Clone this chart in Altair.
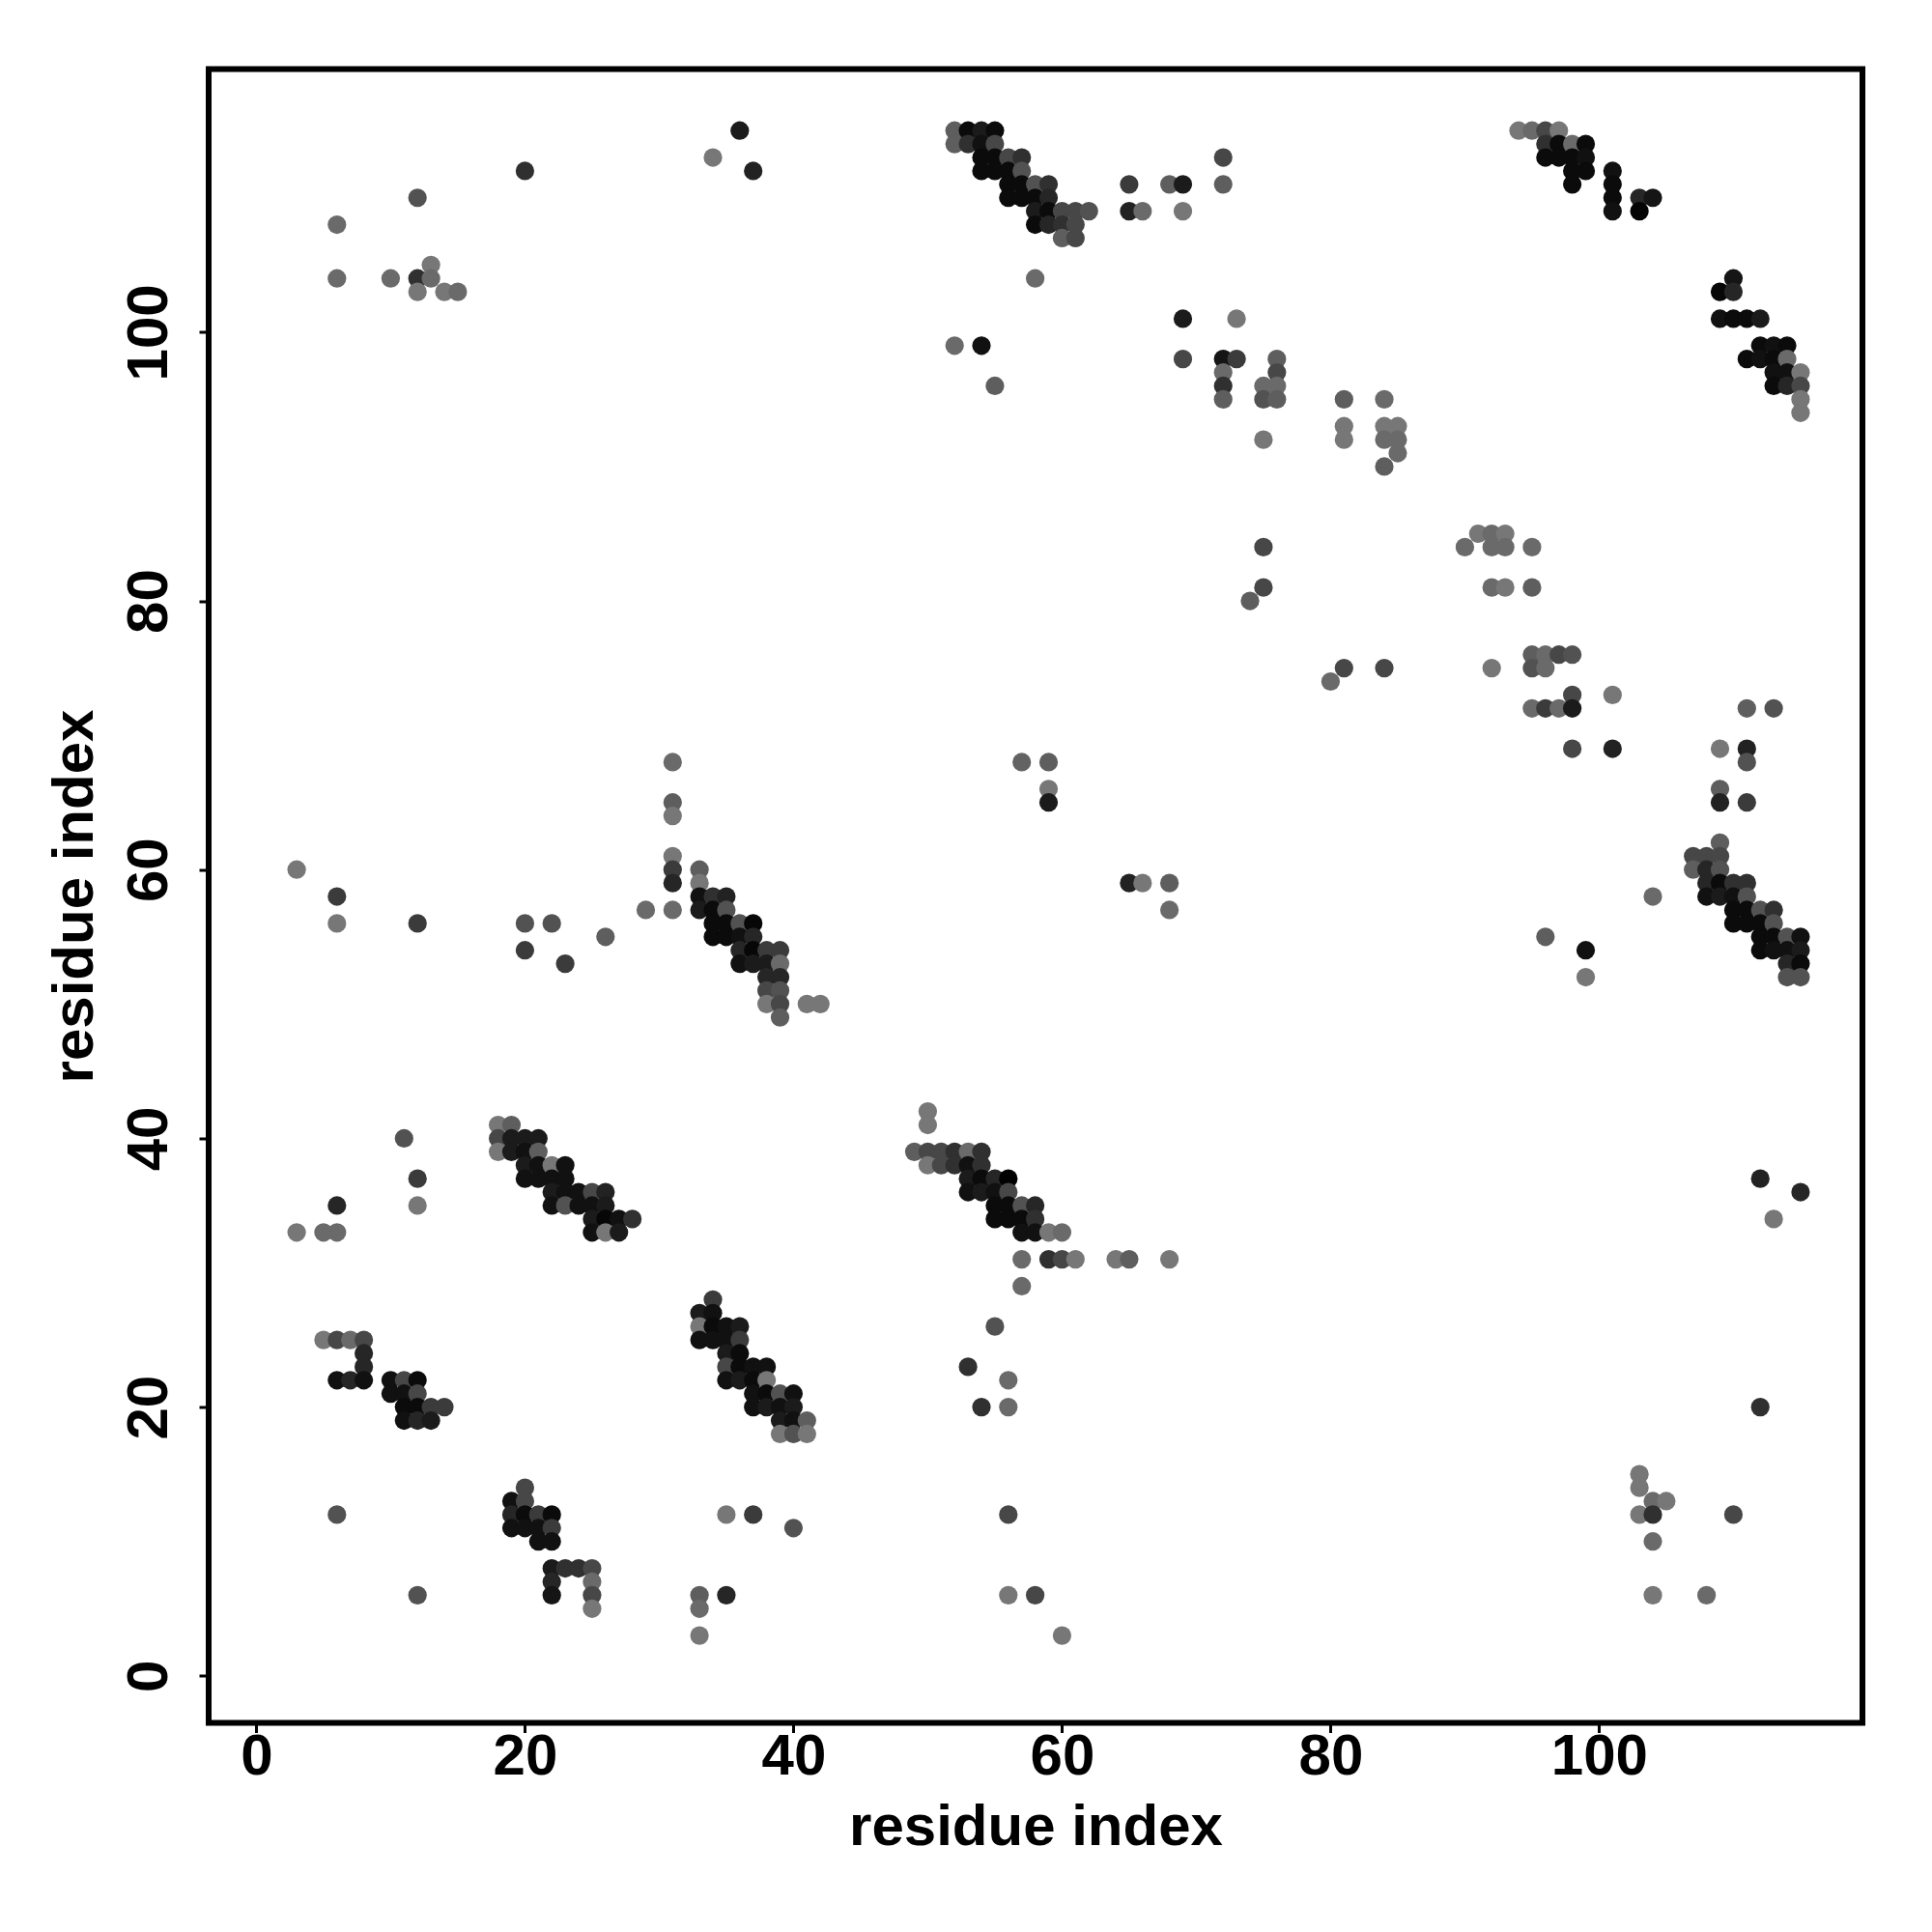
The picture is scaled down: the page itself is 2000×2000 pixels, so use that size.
import altair as alt
import pandas as pd

# (residue i, residue j, contact strength); strength 1 = black, 0 = white
upper_left = [
 (36,115,.9),(34,113,.5),(37,112,.87),(20,112,.8),(12,110,.65),(6,108,.55),(6,104,.55),(10,104,.55),
 (12,104,.8),(13,105,.5),(13,104,.55),(12,103,.5),(14,103,.5),(15,103,.55),(58,104,.55),(52,99,.55),
 (54,99,.95),(55,96,.6),(31,68,.55),(57,68,.58),(59,68,.6),(59,66,.5),(59,65,.9),(31,65,.6),(31,64,.5),
 (3,60,.5),(6,58,.75),(6,56,.5),(12,56,.75),(29,57,.55),(20,56,.65),(22,56,.65),(26,55,.6),(20,54,.75),(23,53,.75),
]
cluster_52_62 = [
 (52,115,.6),(53,115,.97),(54,115,.9),(55,115,.97),(52,114,.6),(53,114,.8),(54,114,.95),(55,114,.7),
 (54,113,.97),(55,113,.97),(56,113,.7),(57,113,.8),(54,112,.97),(55,112,.97),(56,112,.97),(57,112,.65),
 (56,111,.97),(57,111,.97),(58,111,.65),(59,111,.8),(56,110,.97),(57,110,.97),(58,110,.97),(59,110,.85),
 (58,109,.9),(59,109,.97),(60,109,.7),(61,109,.7),(62,109,.65),(58,108,.97),(59,108,.85),(60,108,.8),(61,108,.7),
 (60,107,.6),(61,107,.7),
]
cluster_31_42 = [
 (31,61,.5),(31,60,.75),(31,59,.85),(31,57,.55),(33,60,.6),(33,59,.5),(33,58,.95),(33,57,.9),
 (34,58,.8),(34,57,.97),(34,56,.97),(34,55,.97),(35,58,.87),(35,57,.65),(35,56,.97),(35,55,.97),
 (36,56,.65),(36,55,.95),(36,54,.85),(36,53,.95),(37,56,.98),(37,55,.85),(37,54,.98),(37,53,.9),
 (38,54,.75),(38,53,.9),(38,52,.85),(38,51,.7),(38,50,.5),(39,54,.75),(39,53,.55),(39,52,.85),
 (39,51,.65),(39,50,.7),(39,49,.6),(41,50,.5),(42,50,.5),
]
cluster_18_28 = [
 (18,41,.5),(18,40,.7),(18,39,.5),(19,41,.6),(19,40,.9),(19,39,.9),(20,40,.9),(20,39,.95),(20,38,.9),(20,37,.95),
 (21,40,.9),(21,39,.6),(21,38,.95),(21,37,.95),(22,38,.5),(22,37,.95),(22,36,.9),(22,35,.95),
 (23,38,.95),(23,37,.95),(23,36,.95),(23,35,.65),(24,36,.95),(24,35,.95),(25,36,.7),(25,35,.95),(25,34,.9),(25,33,.95),
 (26,36,.87),(26,35,.9),(26,34,.98),(26,33,.5),(27,34,.95),(27,33,.9),(28,34,.8),
]
cluster_49_68 = [
 (50,42,.5),(50,41,.5),(49,39,.6),(50,39,.7),(51,39,.7),(52,39,.8),(53,39,.55),(54,39,.8),
 (50,38,.5),(51,38,.7),(52,38,.8),(53,38,.95),(54,38,.8),(53,37,.9),(54,37,.97),(55,37,.85),(56,37,1),
 (53,36,.95),(54,36,.9),(55,36,.95),(56,36,.7),(55,35,.97),(56,35,.97),(57,35,.65),(58,35,.85),
 (55,34,.97),(56,34,.97),(57,34,.97),(58,34,.8),(57,33,.95),(58,33,.95),(59,33,.5),(60,33,.55),
 (57,31,.55),(59,31,.8),(60,31,.7),(61,31,.5),(64,31,.5),(65,31,.6),(68,31,.5),(57,29,.55),
]
lower_left = [
 (55,26,.65),(53,23,.8),(56,22,.55),(54,20,.8),(56,20,.55),(56,12,.7),(56,6,.5),(58,6,.7),(60,3,.5),
 (11,40,.65),(12,37,.75),(6,35,.85),(12,35,.5),(3,33,.5),(5,33,.55),(6,33,.55),
 (5,25,.5),(6,25,.7),(7,25,.55),(8,25,.7),(8,24,.85),(8,23,.85),(6,22,.95),(7,22,.85),(8,22,.95),
 (10,22,.95),(11,22,.7),(12,22,.97),(10,21,.95),(11,21,.95),(12,21,.7),(11,20,.97),(12,20,.97),(13,20,.75),(14,20,.75),
 (11,19,.95),(12,19,.85),(13,19,.9),
 (20,14,.7),(19,13,.95),(20,13,.7),(19,12,.85),(20,12,.97),(21,12,.75),(22,12,.97),
 (19,11,.95),(20,11,.95),(21,11,.95),(22,11,.75),(21,10,.95),(22,10,.95),
 (22,8,.9),(23,8,.8),(24,8,.8),(25,8,.7),(22,7,.85),(25,7,.55),(22,6,.93),(25,6,.7),(25,5,.5),
 (6,12,.65),(12,6,.65),(33,6,.6),(33,5,.55),(33,3,.5),(35,6,.85),(35,12,.5),(37,12,.75),(40,11,.65),
]
cluster_33_41 = [
 (34,28,.75),(33,27,.9),(34,27,.95),(33,26,.5),(34,26,.97),(35,26,.95),(36,26,.9),
 (33,25,.95),(34,25,.95),(35,25,.95),(36,25,.75),(35,24,.9),(36,24,.97),
 (35,23,.7),(36,23,.97),(37,23,.95),(38,23,.95),(35,22,.95),(36,22,.9),(37,22,.97),(38,22,.5),
 (37,21,.95),(38,21,.97),(39,21,.65),(40,21,.95),(37,20,.95),(38,20,.9),(39,20,.95),(40,20,.9),
 (39,19,.9),(40,19,.95),(41,19,.6),(39,18,.5),(40,18,.65),(41,18,.5),
]
cluster_94_115 = [
 (94,115,.5),(95,115,.55),(96,115,.7),(97,115,.5),(96,114,.8),(97,114,.97),(98,114,.55),(99,114,.97),
 (96,113,.97),(97,113,.97),(98,113,.97),(99,113,.95),(98,112,.97),(99,112,.97),(98,111,.97),
 (101,112,.95),(101,111,.97),(101,110,.97),(101,109,.95),(103,110,.85),(104,110,.93),(103,109,.99),
 (110,104,.93),(109,103,.98),(110,103,.85),(109,101,.95),(110,101,.97),(111,101,.97),(112,101,.9),
 (112,99,.97),(113,99,.95),(114,99,.97),(111,98,.97),(112,98,.95),(113,98,.97),(114,98,.55),
 (113,97,.95),(114,97,.95),(115,97,.5),(113,96,.97),(114,96,.85),(115,96,.7),(115,95,.5),(115,94,.5),
]
upper_middle = [
 (65,111,.75),(68,111,.6),(69,111,.9),(72,113,.7),(72,111,.6),(65,109,.87),(66,109,.55),(69,109,.5),
 (69,101,.9),(73,101,.5),(69,98,.7),(72,98,.93),(73,98,.75),(76,98,.6),(72,97,.55),(72,96,.8),(72,95,.6),
 (76,97,.7),(75,96,.55),(76,96,.55),(75,95,.65),(76,95,.6),(75,92,.5),(81,95,.6),(84,95,.55),
 (81,93,.5),(81,92,.5),(84,93,.5),(85,93,.5),(84,92,.55),(85,92,.55),(85,91,.55),(84,90,.6),
 (75,84,.7),(75,81,.7),(74,80,.6),(90,84,.55),(91,85,.5),(92,85,.55),(93,85,.5),(92,84,.55),(93,84,.55),(95,84,.55),
 (92,81,.55),(93,81,.5),(95,81,.6),(81,75,.7),(84,75,.7),(80,74,.55),(92,75,.5),
 (95,76,.6),(96,76,.55),(97,76,.7),(98,76,.65),(95,75,.65),(96,75,.55),(98,73,.7),(101,73,.5),
 (95,72,.55),(96,72,.75),(97,72,.55),(98,72,.9),(111,72,.6),(113,72,.65),(98,69,.7),(101,69,.87),
 (109,69,.5),(111,69,.87),(111,68,.65),(109,66,.6),(109,65,.87),(111,65,.75),
 (65,59,.87),(66,59,.5),(68,59,.6),(68,57,.55),(104,58,.55),
]
cluster_107_115 = [
 (109,62,.6),(107,61,.7),(108,61,.7),(109,61,.7),(107,60,.6),(108,60,.85),(109,60,.65),
 (108,59,.85),(109,59,.97),(110,59,.8),(111,59,.8),(108,58,.95),(109,58,.9),(110,58,.95),(111,58,.65),
 (110,57,.97),(111,57,.97),(112,57,.65),(113,57,.8),(110,56,.97),(111,56,.97),(112,56,.97),(113,56,.65),
 (112,55,.97),(113,55,.97),(114,55,.65),(115,55,.95),(112,54,.97),(113,54,.95),(114,54,.95),(115,54,.9),
 (114,53,.85),(115,53,.97),(114,52,.65),(115,52,.65),
]
lower_right = [
 (96,55,.6),(99,54,.95),(99,52,.5),(112,37,.87),(115,36,.85),(113,34,.5),(112,20,.8),
 (103,15,.5),(103,14,.5),(104,13,.55),(105,13,.5),(103,12,.5),(104,12,.8),(110,12,.7),(104,10,.55),(104,6,.5),(108,6,.55),
]
tick_values = [0, 20, 40, 60, 80, 100]
axis_title = "residue index"

rows = (upper_left + cluster_52_62 + cluster_31_42 + cluster_18_28 + cluster_49_68 + lower_left
        + cluster_33_41 + cluster_94_115 + upper_middle + cluster_107_115 + lower_right)
df = pd.DataFrame(rows, columns=["i", "j", "strength"]).sort_values(["i", "j"], ascending=[True, False])

FONT = "Liberation Sans"
def axis(**kw):
    return alt.Axis(values=tick_values, title=axis_title, grid=False, domain=False, ticks=True,
                    tickSize=10, tickWidth=3, tickColor="black", labelFont=FONT, labelFontSize=60,
                    labelFontWeight="bold", labelColor="black", titleFont=FONT, titleFontSize=60,
                    titleFontWeight="bold", titleColor="black", labelOverlap=False, labelFlush=False, **kw)

chart = (
    alt.Chart(df)
    .mark_circle(size=370, opacity=1, stroke=None)
    .encode(
        x=alt.X("i:Q", scale=alt.Scale(domain=[-3.554, 119.61], nice=False, zero=False),
                axis=axis(labelPadding=-4, labelBaseline="top", titlePadding=14)),
        y=alt.Y("j:Q", scale=alt.Scale(domain=[-3.50, 119.58], nice=False, zero=False),
                axis=axis(labelPadding=21, labelAngle=270, labelAlign="center", labelBaseline="bottom", titlePadding=16)),
        color=alt.Color("strength:Q", scale=alt.Scale(domain=[0, 1], range=["#ffffff", "#000000"]), legend=None),
        order=alt.Order("order_idx:Q"),
    )
    .transform_window(order_idx="row_number()")
    .properties(width=1712, height=1712,
                autosize=alt.AutoSizeParams(type="none"),
                padding={"left": 208, "top": 63.5, "right": 64, "bottom": 200},
                background="white")
    .configure_view(stroke="black", strokeWidth=6)
)
chart.save("out.html", embed_options={"renderer": "svg", "actions": False})
